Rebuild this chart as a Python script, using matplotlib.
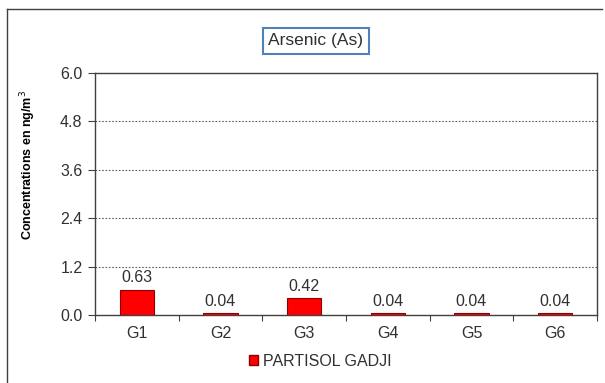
import matplotlib
matplotlib.use("Agg")
import matplotlib.pyplot as plt
from matplotlib.lines import Line2D
from matplotlib.patches import Patch
import numpy as np

categories = ["G1", "G2", "G3", "G4", "G5", "G6"]
values = [0.63, 0.04, 0.42, 0.04, 0.04, 0.04]
labels = ["0.63", "0.04", "0.42", "0.04", "0.04", "0.04"]
yticks = [0.0, 1.2, 2.4, 3.6, 4.8, 6.0]
series_name = "PARTISOL GADJI"
title = "Arsenic (As)"

plt.rcParams['font.family'] = ['Liberation Sans', 'DejaVu Sans']

W, H = 605, 383
fig = plt.figure(figsize=(W/100, H/100), dpi=100)
fig.patch.set_facecolor('white')

# outer frame lines (left and top)
fig.add_artist(Line2D([7/W, 7/W], [0, 1 - 9/H], transform=fig.transFigure, color='#404040', lw=1))
fig.add_artist(Line2D([7/W, 602/W], [1 - 9/H, 1 - 9/H], transform=fig.transFigure, color='#404040', lw=1))

FS = 11.5
TC = '#303030'
left, right, top, bottom = 95, 597, 73, 315
ax = fig.add_axes([left/W, 1 - bottom/H, (right-left)/W, (bottom-top)/H])

x = np.arange(len(categories))
bars = ax.bar(x, values, width=0.41, color='#ff0000', edgecolor='#8b0000', linewidth=0.8, zorder=3)
for xi, v, lab in zip(x, values, labels):
    ax.annotate(lab, (xi, v), xytext=(0, 3), textcoords='offset points',
                ha='center', va='bottom', fontsize=FS, color=TC)

ax.set_xlim(-0.5, len(categories) - 0.5)
ax.set_ylim(0, 6.0)
ax.set_yticks(yticks)
ax.set_yticklabels([f"{t:.1f}" for t in yticks], fontsize=FS, color=TC)
ax.set_xticks(np.arange(-0.5, len(categories), 1.0))
ax.set_xticklabels([])
ax.set_xticks(x, minor=True)
ax.set_xticklabels(categories, minor=True, fontsize=FS, color=TC)
ax.tick_params(axis='x', which='minor', length=0, pad=8)
ax.tick_params(axis='x', which='major', length=4, direction='out', color='#404040')
ax.tick_params(axis='y', length=5, direction='out', color='#404040', pad=4)

for yt in yticks[1:-1]:
    ax.axhline(yt, color='#606060', lw=0.8, ls=(0, (1.5, 1.5)), zorder=1)

for s in ax.spines.values():
    s.set_color('#404040')
    s.set_linewidth(1)

fig.text(28/W, 1 - 165/H, "Concentrations en ng/m$^3$", rotation=90, ha='center', va='center',
         fontsize=9, fontweight='bold', color='black')

fig.text(316/W, 1 - 41/H, title, ha='center', va='center', fontsize=12.5, color=TC,
         bbox=dict(boxstyle='square,pad=0.3', facecolor='white', edgecolor='#4f81bd', linewidth=1.5))

leg = fig.legend(handles=[Patch(facecolor='#ff0000', edgecolor='#8b0000', label=series_name)],
                 loc='center', bbox_to_anchor=(320/W, 1 - 361/H), frameon=False, fontsize=FS,
                 handlelength=0.6, handleheight=0.6, handletextpad=0.3)
for t in leg.get_texts():
    t.set_color(TC)

fig.savefig("out.png", dpi=100)
